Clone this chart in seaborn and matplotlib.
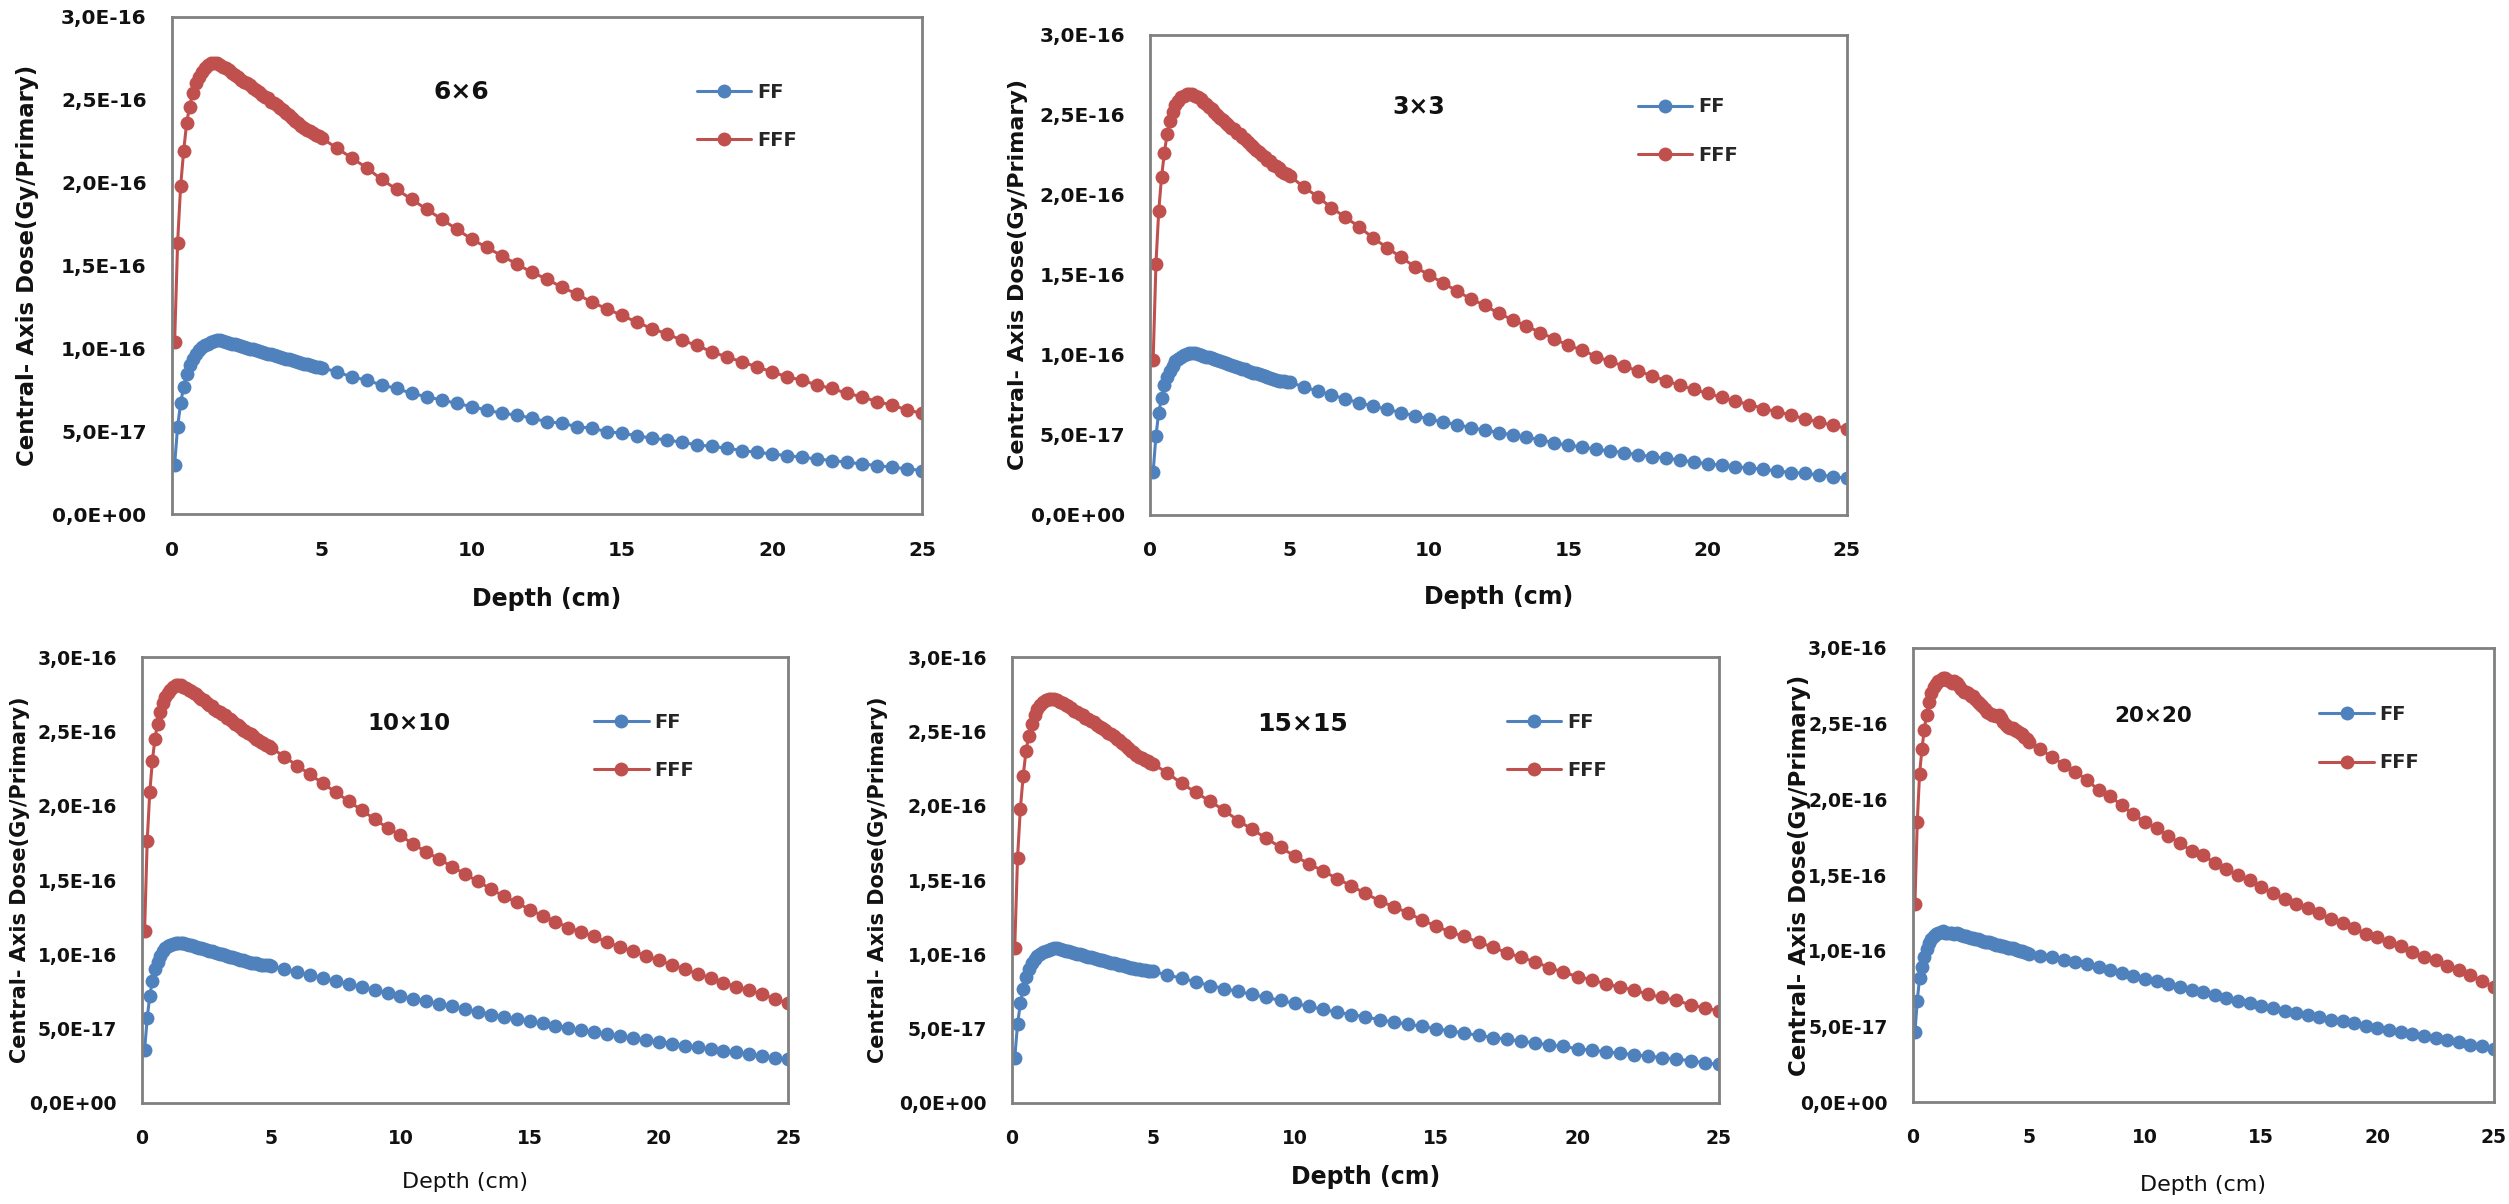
import pandas as pd
import matplotlib
matplotlib.use('Agg')
from matplotlib import pyplot as plt
from matplotlib.ticker import MultipleLocator, FuncFormatter
import seaborn as sns

# Profondeurs (cm) : pas de 0,1 jusqu'à 5 cm puis pas de 0,5
depth = [0.1, 0.2, 0.3, 0.4, 0.5, 0.6, 0.7, 0.8, 0.9, 1.0,
         1.1, 1.2, 1.3, 1.4, 1.5, 1.6, 1.7, 1.8, 1.9, 2.0,
         2.1, 2.2, 2.3, 2.4, 2.5, 2.6, 2.7, 2.8, 2.9, 3.0,
         3.1, 3.2, 3.3, 3.4, 3.5, 3.6, 3.7, 3.8, 3.9, 4.0,
         4.1, 4.2, 4.3, 4.4, 4.5, 4.6, 4.7, 4.8, 4.9, 5.0,
         5.5, 6.0, 6.5, 7.0, 7.5, 8.0, 8.5, 9.0, 9.5, 10.0,
         10.5, 11.0, 11.5, 12.0, 12.5, 13.0, 13.5, 14.0, 14.5, 15.0,
         15.5, 16.0, 16.5, 17.0, 17.5, 18.0, 18.5, 19.0, 19.5, 20.0,
         20.5, 21.0, 21.5, 22.0, 22.5, 23.0, 23.5, 24.0, 24.5, 25.0]

# Doses en unités de 1E-16 Gy/Primary
ff_6 = [0.30, 0.53, 0.67, 0.77, 0.85, 0.90, 0.94, 0.97, 0.99, 1.01,
        1.02, 1.03, 1.04, 1.045, 1.05, 1.05, 1.045, 1.04, 1.035, 1.03,
        1.025, 1.02, 1.015, 1.01, 1.005, 1.00, 0.995, 0.99, 0.985, 0.98,
        0.975, 0.97, 0.965, 0.96, 0.955, 0.95, 0.945, 0.94, 0.935, 0.93,
        0.925, 0.92, 0.915, 0.91, 0.905, 0.90, 0.895, 0.89, 0.89, 0.885,
        0.86, 0.83, 0.81, 0.78, 0.76, 0.73, 0.71, 0.69, 0.67, 0.65,
        0.63, 0.61, 0.60, 0.58, 0.56, 0.55, 0.53, 0.52, 0.50, 0.49,
        0.475, 0.46, 0.45, 0.435, 0.42, 0.41, 0.40, 0.385, 0.375, 0.365,
        0.355, 0.345, 0.335, 0.325, 0.315, 0.305, 0.295, 0.285, 0.275, 0.265]
fff_6 = [1.04, 1.64, 1.98, 2.19, 2.36, 2.46, 2.54, 2.60, 2.64, 2.67,
         2.69, 2.71, 2.72, 2.72, 2.72, 2.71, 2.70, 2.69, 2.68, 2.66,
         2.65, 2.64, 2.62, 2.61, 2.60, 2.59, 2.57, 2.56, 2.55, 2.53,
         2.52, 2.51, 2.49, 2.48, 2.47, 2.45, 2.44, 2.42, 2.41, 2.39,
         2.37, 2.36, 2.34, 2.33, 2.32, 2.31, 2.30, 2.29, 2.28, 2.27,
         2.21, 2.15, 2.09, 2.02, 1.96, 1.90, 1.84, 1.78, 1.72, 1.66,
         1.61, 1.56, 1.51, 1.46, 1.42, 1.37, 1.33, 1.28, 1.24, 1.20,
         1.16, 1.12, 1.09, 1.05, 1.02, 0.98, 0.95, 0.92, 0.89, 0.86,
         0.83, 0.81, 0.78, 0.76, 0.73, 0.71, 0.68, 0.66, 0.63, 0.61]

ff_3 = [0.27, 0.495, 0.64, 0.73, 0.81, 0.86, 0.90, 0.93, 0.96, 0.975,
        0.99, 1.00, 1.005, 1.01, 1.01, 1.01, 1.005, 1.00, 0.995, 0.99,
        0.985, 0.98, 0.975, 0.97, 0.96, 0.955, 0.95, 0.945, 0.94, 0.93,
        0.925, 0.92, 0.915, 0.91, 0.90, 0.895, 0.89, 0.885, 0.88, 0.875,
        0.87, 0.86, 0.855, 0.85, 0.845, 0.84, 0.84, 0.835, 0.83, 0.83,
        0.80, 0.775, 0.75, 0.725, 0.70, 0.68, 0.66, 0.64, 0.62, 0.60,
        0.58, 0.565, 0.545, 0.53, 0.515, 0.50, 0.485, 0.47, 0.45, 0.435,
        0.425, 0.41, 0.40, 0.39, 0.375, 0.365, 0.355, 0.345, 0.33, 0.32,
        0.31, 0.30, 0.295, 0.285, 0.275, 0.265, 0.26, 0.25, 0.24, 0.23]
fff_3 = [0.97, 1.57, 1.90, 2.11, 2.26, 2.38, 2.46, 2.52, 2.56, 2.59,
         2.61, 2.62, 2.63, 2.63, 2.63, 2.62, 2.61, 2.60, 2.58, 2.57,
         2.55, 2.54, 2.52, 2.50, 2.48, 2.47, 2.45, 2.44, 2.42, 2.41,
         2.39, 2.38, 2.36, 2.35, 2.33, 2.31, 2.30, 2.28, 2.27, 2.25,
         2.24, 2.22, 2.21, 2.19, 2.18, 2.17, 2.15, 2.14, 2.13, 2.12,
         2.05, 1.99, 1.92, 1.86, 1.80, 1.73, 1.67, 1.61, 1.55, 1.50,
         1.45, 1.40, 1.35, 1.31, 1.26, 1.22, 1.18, 1.14, 1.10, 1.06,
         1.03, 0.99, 0.96, 0.93, 0.90, 0.87, 0.84, 0.81, 0.785, 0.76,
         0.735, 0.71, 0.69, 0.665, 0.645, 0.625, 0.60, 0.58, 0.56, 0.54]

ff_10 = [0.355, 0.57, 0.72, 0.82, 0.90, 0.95, 0.99, 1.02, 1.04, 1.055,
         1.065, 1.07, 1.075, 1.075, 1.075, 1.075, 1.07, 1.065, 1.06, 1.055,
         1.05, 1.045, 1.04, 1.035, 1.03, 1.025, 1.02, 1.015, 1.01, 1.005,
         1.00, 0.995, 0.99, 0.985, 0.98, 0.975, 0.97, 0.965, 0.96, 0.955,
         0.95, 0.945, 0.94, 0.94, 0.935, 0.93, 0.93, 0.925, 0.925, 0.92,
         0.90, 0.88, 0.86, 0.84, 0.82, 0.80, 0.78, 0.76, 0.74, 0.72,
         0.70, 0.685, 0.665, 0.65, 0.63, 0.615, 0.595, 0.58, 0.565, 0.55,
         0.535, 0.52, 0.505, 0.49, 0.475, 0.465, 0.45, 0.435, 0.425, 0.41,
         0.40, 0.385, 0.375, 0.36, 0.35, 0.34, 0.33, 0.315, 0.305, 0.295]
fff_10 = [1.16, 1.76, 2.09, 2.30, 2.45, 2.55, 2.63, 2.69, 2.73, 2.76,
          2.78, 2.80, 2.81, 2.81, 2.81, 2.80, 2.79, 2.78, 2.77, 2.76,
          2.75, 2.73, 2.72, 2.71, 2.69, 2.68, 2.67, 2.65, 2.64, 2.63,
          2.62, 2.61, 2.59, 2.58, 2.57, 2.55, 2.54, 2.53, 2.51, 2.50,
          2.49, 2.48, 2.47, 2.45, 2.44, 2.43, 2.42, 2.41, 2.40, 2.39,
          2.33, 2.27, 2.21, 2.15, 2.09, 2.03, 1.97, 1.91, 1.85, 1.80,
          1.74, 1.69, 1.64, 1.59, 1.54, 1.49, 1.44, 1.39, 1.35, 1.30,
          1.26, 1.22, 1.18, 1.15, 1.12, 1.08, 1.05, 1.02, 0.99, 0.96,
          0.93, 0.90, 0.87, 0.84, 0.81, 0.78, 0.76, 0.73, 0.70, 0.67]

ff_15 = [0.30, 0.53, 0.67, 0.77, 0.85, 0.90, 0.94, 0.97, 0.99, 1.005,
         1.015, 1.025, 1.03, 1.035, 1.04, 1.04, 1.035, 1.03, 1.025, 1.02,
         1.015, 1.01, 1.005, 1.00, 0.995, 0.99, 0.985, 0.98, 0.975, 0.97,
         0.965, 0.96, 0.955, 0.95, 0.945, 0.94, 0.935, 0.93, 0.925, 0.92,
         0.915, 0.91, 0.905, 0.90, 0.90, 0.895, 0.895, 0.89, 0.89, 0.885,
         0.86, 0.84, 0.815, 0.79, 0.77, 0.75, 0.73, 0.71, 0.69, 0.67,
         0.65, 0.63, 0.61, 0.595, 0.58, 0.56, 0.545, 0.53, 0.515, 0.50,
         0.485, 0.47, 0.455, 0.44, 0.43, 0.415, 0.405, 0.39, 0.38, 0.365,
         0.355, 0.345, 0.335, 0.325, 0.315, 0.305, 0.295, 0.285, 0.27, 0.26]
fff_15 = [1.04, 1.65, 1.98, 2.20, 2.37, 2.47, 2.55, 2.61, 2.65, 2.68,
          2.70, 2.71, 2.72, 2.72, 2.72, 2.71, 2.70, 2.69, 2.68, 2.67,
          2.66, 2.64, 2.63, 2.62, 2.61, 2.59, 2.58, 2.57, 2.56, 2.54,
          2.53, 2.52, 2.51, 2.49, 2.48, 2.47, 2.45, 2.44, 2.42, 2.41,
          2.39, 2.37, 2.36, 2.34, 2.33, 2.32, 2.31, 2.30, 2.29, 2.28,
          2.22, 2.15, 2.09, 2.03, 1.97, 1.90, 1.84, 1.78, 1.72, 1.66,
          1.61, 1.56, 1.51, 1.46, 1.41, 1.36, 1.32, 1.28, 1.23, 1.19,
          1.15, 1.12, 1.08, 1.05, 1.01, 0.98, 0.95, 0.91, 0.88, 0.85,
          0.83, 0.80, 0.78, 0.76, 0.73, 0.71, 0.69, 0.66, 0.64, 0.62]

ff_20 = [0.46, 0.67, 0.82, 0.89, 0.96, 1.01, 1.05, 1.08, 1.10, 1.11,
         1.12, 1.125, 1.13, 1.12, 1.115, 1.12, 1.115, 1.11, 1.115, 1.11,
         1.105, 1.10, 1.095, 1.09, 1.085, 1.085, 1.08, 1.075, 1.07, 1.065,
         1.06, 1.06, 1.055, 1.05, 1.045, 1.04, 1.035, 1.03, 1.03, 1.025,
         1.02, 1.02, 1.015, 1.01, 1.005, 1.00, 0.995, 0.99, 0.985, 0.98,
         0.965, 0.955, 0.94, 0.925, 0.91, 0.89, 0.875, 0.855, 0.835, 0.815,
         0.80, 0.78, 0.76, 0.74, 0.725, 0.705, 0.69, 0.67, 0.655, 0.635,
         0.62, 0.60, 0.585, 0.575, 0.56, 0.545, 0.535, 0.52, 0.505, 0.49,
         0.475, 0.46, 0.45, 0.435, 0.42, 0.41, 0.395, 0.38, 0.37, 0.35]
fff_20 = [1.31, 1.85, 2.17, 2.33, 2.46, 2.56, 2.64, 2.70, 2.74, 2.76,
          2.78, 2.79, 2.80, 2.80, 2.79, 2.78, 2.77, 2.78, 2.77, 2.75,
          2.73, 2.71, 2.71, 2.70, 2.68, 2.68, 2.66, 2.64, 2.63, 2.62,
          2.60, 2.58, 2.57, 2.56, 2.56, 2.55, 2.56, 2.54, 2.51, 2.49,
          2.48, 2.47, 2.47, 2.46, 2.45, 2.44, 2.43, 2.41, 2.40, 2.38,
          2.33, 2.28, 2.23, 2.18, 2.13, 2.06, 2.02, 1.96, 1.90, 1.85,
          1.81, 1.76, 1.71, 1.66, 1.63, 1.58, 1.54, 1.50, 1.47, 1.42,
          1.38, 1.34, 1.31, 1.28, 1.25, 1.21, 1.18, 1.15, 1.11, 1.09,
          1.06, 1.03, 0.99, 0.96, 0.94, 0.90, 0.87, 0.84, 0.80, 0.76]

champs = ['6×6', '3×3', '10×10', '15×15', '20×20']
series_ff = [ff_6, ff_3, ff_10, ff_15, ff_20]
series_fff = [fff_6, fff_3, fff_10, fff_15, fff_20]

# Mise en page (fractions de la figure) et réglages par graphique
positions = [[0.0684, 0.5727, 0.2991, 0.4132],
             [0.4585, 0.5723, 0.2776, 0.3987],
             [0.0566, 0.0839, 0.2575, 0.3704],
             [0.4033, 0.0839, 0.2818, 0.3704],
             [0.7623, 0.0847, 0.2316, 0.3771]]
titre_x = [0.386, 0.385, 0.413, 0.411, 0.414]
titre_taille = [18, 17, 16.5, 18, 15.5]
ylabel_x = [-0.177, -0.175, -0.173, -0.175, -0.175]
ylabel_taille = [16.5, 16, 15, 15, 16.5]
xlabel_y = [-0.146, -0.146, -0.155, -0.14, -0.16]
xlabel_poids = ['bold', 'bold', 'normal', 'bold', 'normal']
xlabel_taille = [17, 17, 16, 17, 16]
tick_taille = [14.5, 14.5, 13.5, 13.5, 13.5]

bleu = '#4F81BD'
rouge = '#C0504D'

sns.set_theme(style='white')
plt.rcParams['font.family'] = ['DejaVu Sans']
plt.rcParams['font.weight'] = 'bold'

fig = plt.figure(figsize=(25.09, 12.04), dpi=100)


def format_sci(v, pos):
    return f'{v:.1E}'.replace('.', ',')


for i, champ in enumerate(champs):
    ax = fig.add_axes(positions[i])
    df = pd.DataFrame({
        'depth': depth + depth,
        'dose': [v * 1e-16 for v in series_ff[i]] + [v * 1e-16 for v in series_fff[i]],
        'faisceau': ['FF'] * len(depth) + ['FFF'] * len(depth),
    })
    sns.lineplot(data=df, x='depth', y='dose', hue='faisceau',
                 palette={'FF': bleu, 'FFF': rouge}, marker='o', markersize=10,
                 markeredgewidth=0, linewidth=2.2, ax=ax, legend=True)

    ax.set_xlim(0, 25)
    ax.set_ylim(0, 3e-16)
    ax.xaxis.set_major_locator(MultipleLocator(5))
    ax.yaxis.set_major_locator(MultipleLocator(0.5e-16))
    ax.yaxis.set_major_formatter(FuncFormatter(format_sci))
    ax.tick_params(length=0, labelsize=tick_taille[i], colors='#111111')
    ax.tick_params(axis='x', pad=19)
    ax.tick_params(axis='y', pad=18)

    for sp in ax.spines.values():
        sp.set_color('#808080')
        sp.set_linewidth(2)

    ax.set_xlabel('Depth (cm)', fontsize=xlabel_taille[i], fontweight=xlabel_poids[i],
                  color='#111111')
    ax.xaxis.set_label_coords(0.5, xlabel_y[i])
    ax.set_ylabel('Central- Axis Dose(Gy/Primary)', fontsize=ylabel_taille[i],
                  fontweight='bold', color='#111111')
    ax.yaxis.set_label_coords(ylabel_x[i], 0.5)

    ax.text(titre_x[i], 0.85, champ, transform=ax.transAxes,
            fontsize=titre_taille[i], fontweight='bold', ha='center', va='center',
            color='#111111')

    handles, labels = ax.get_legend_handles_labels()
    ax.legend(handles, labels, loc='center left', bbox_to_anchor=(0.70, 0.80),
              frameon=False, borderaxespad=0, borderpad=0, handlelength=2.8,
              handletextpad=0.3, labelspacing=1.5,
              prop={'size': 14, 'weight': 'bold'})

plt.savefig('out.png', dpi=100)
